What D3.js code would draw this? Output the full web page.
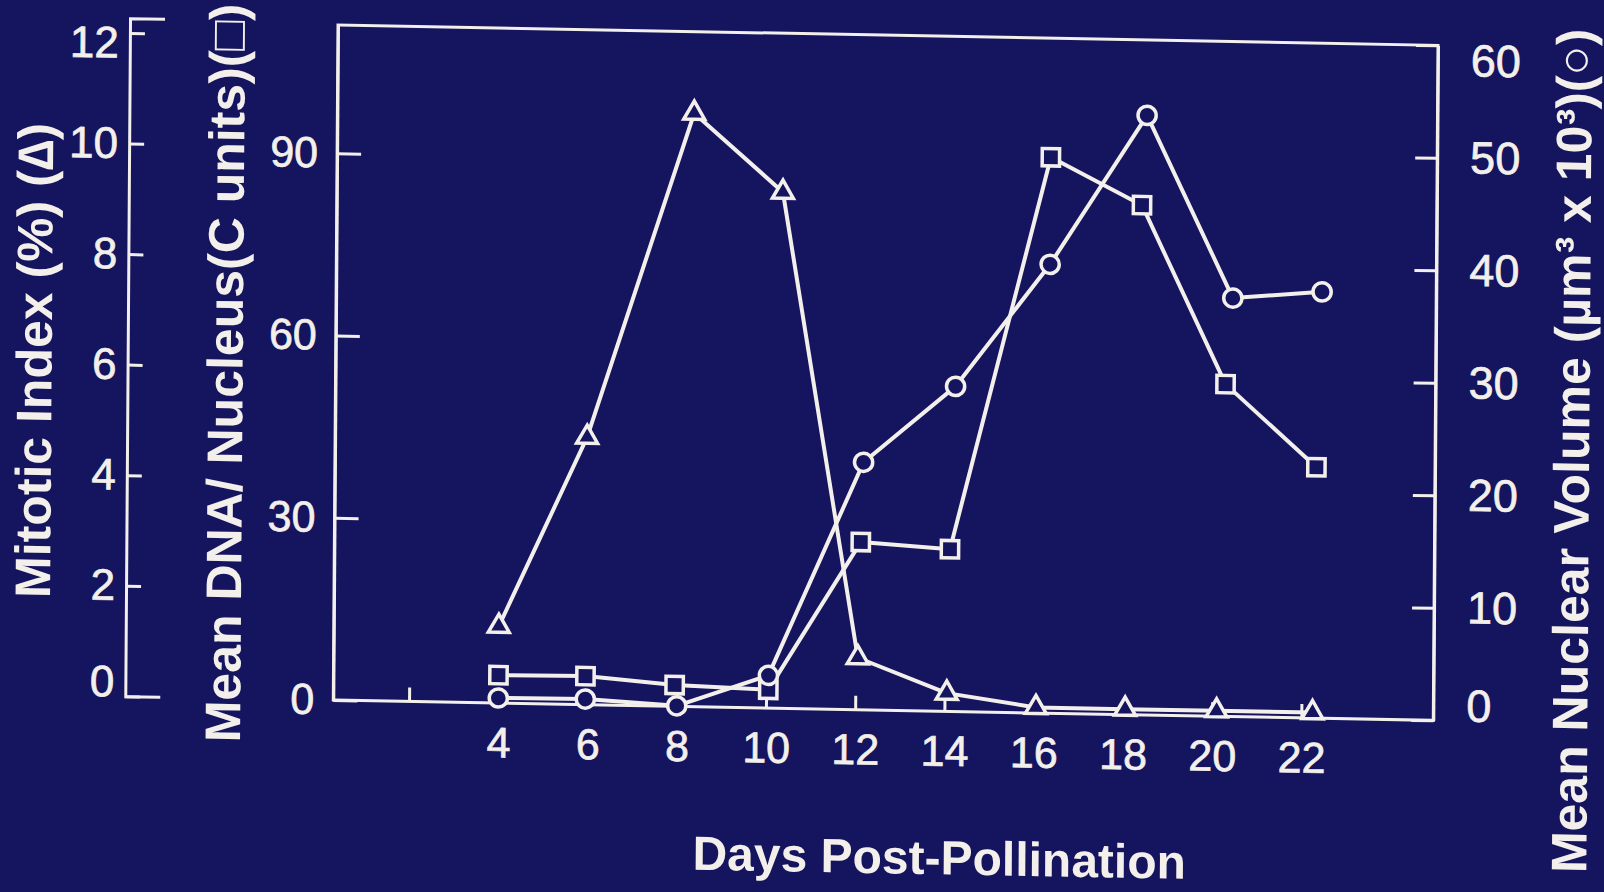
<!DOCTYPE html>
<html>
<head>
<meta charset="utf-8">
<script src="https://cdn.jsdelivr.net/npm/d3@7"></script>
<style>
html, body { margin: 0; padding: 0; background: #15145e; overflow: hidden; }
svg { display: block; }
text { font-family: "Liberation Sans", Arial, Helvetica, sans-serif; fill: #f3f0ec; }
</style>
</head>
<body>
<script>
// days post-pollination for each series
var mitoticDays   = [4, 5.95, 8.3, 10.3, 12.05, 14.05, 16.05, 18.05, 20.1, 22.25];
var mitoticIndex  = [1.39, 4.84, 10.74, 9.34, 0.94, 0.33, 0.1, 0.1, 0.1, 0.1];

var dnaDays       = [4, 5.95, 7.95, 10.05, 12.1, 14.1, 16.3, 18.35, 20.25, 22.3];
var dnaPerNucleus = [4.6, 4.7, 3.5, 3.0, 27.6, 26.7, 91.5, 83.9, 54.7, 41.3];

var volumeDays    = [4, 5.95, 8, 10.05, 12.15, 14.2, 16.3, 18.45, 20.4, 22.4];
var nuclearVolume = [0.45, 0.5, 0.05, 2.9, 22.0, 28.9, 39.9, 53.3, 37.2, 37.9];

var dayTicks     = [2, 4, 6, 8, 10, 12, 14, 16, 18, 20, 22];
var mitoticTicks = [0, 2, 4, 6, 8, 10, 12];
var dnaTicks     = [0, 30, 60, 90];
var volumeTicks  = [0, 10, 20, 30, 40, 50, 60];

var width = 1604, height = 892;
var bg = "#15145e", ink = "#f3f0ec";
var box = {left: 338, right: 1438, top: 25, bottom: 700};

var svg = d3.select("body").append("svg")
    .attr("width", width)
    .attr("height", height);

svg.append("rect")
    .attr("width", width)
    .attr("height", height)
    .attr("fill", bg);

// the photographed slide is slightly sheared: draw straight, then tilt the group
var g = svg.append("g")
    .attr("transform", "matrix(1,0.0185,-0.007,1,0.18,-6.25)");

var x = d3.scaleLinear().domain([4, 22]).range([503, 1306]);
var yMit = d3.scaleLinear().domain([0, 12.27]).range([box.bottom, 22]);
var yDna = d3.scaleLinear().domain([0, 111.1]).range([box.bottom, box.top]);
var yVol = d3.scaleLinear().domain([0, 60]).range([box.bottom, box.top]);

function styleAxis(sel, size) {
  sel.selectAll("path, line")
      .attr("stroke", ink)
      .attr("stroke-width", 3);
  sel.selectAll("text")
      .attr("fill", ink)
      .attr("stroke", ink)
      .attr("stroke-width", 0.7)
      .style("font-size", size + "px");
  sel.attr("font-family", null);
}

// frame
g.append("rect")
    .attr("x", box.left)
    .attr("y", box.top)
    .attr("width", box.right - box.left)
    .attr("height", box.bottom - box.top)
    .attr("fill", "none")
    .attr("stroke", ink)
    .attr("stroke-width", 3);

// mitotic index axis (far left)
var mitAxis = g.append("g")
    .attr("transform", "translate(130,0)")
    .call(d3.axisLeft(yMit)
        .tickValues(mitoticTicks)
        .tickSizeInner(-15)
        .tickSizeOuter(-35)
        .tickPadding(11));
styleAxis(mitAxis, 44);
mitAxis.selectAll(".tick text")
    .attr("dy", function(d) { return d === 0 ? "0em" : d === 12 ? "0.55em" : "0.32em"; });

// DNA axis (left side of frame)
var dnaAxis = g.append("g")
    .attr("transform", "translate(" + box.left + ",0)")
    .call(d3.axisLeft(yDna)
        .tickValues(dnaTicks)
        .tickSizeInner(-24)
        .tickSizeOuter(0)
        .tickPadding(19));
styleAxis(dnaAxis, 43);

// volume axis (right side of frame)
var volAxis = g.append("g")
    .attr("transform", "translate(" + box.right + ",0)")
    .call(d3.axisRight(yVol)
        .tickValues(volumeTicks)
        .tickSizeInner(-22)
        .tickSizeOuter(0)
        .tickPadding(33));
styleAxis(volAxis, 45);
volAxis.selectAll(".tick text")
    .attr("dy", function(d) { return d === 60 ? "0.66em" : d === 0 ? "0em" : "0.32em"; });

// days axis
var dayAxis = g.append("g")
    .attr("transform", "translate(0," + box.bottom + ")")
    .call(d3.axisBottom(x)
        .tickValues(dayTicks)
        .tickSizeInner(-14)
        .tickSizeOuter(0)
        .tickPadding(24)
        .tickFormat(function(d) { return d === 2 ? "" : d; }));
dayAxis.select(".domain").remove();
styleAxis(dayAxis, 43);

// series
var series = [
  {days: mitoticDays, values: mitoticIndex, y: yMit, shape: "triangle"},
  {days: dnaDays, values: dnaPerNucleus, y: yDna, shape: "square"},
  {days: volumeDays, values: nuclearVolume, y: yVol, shape: "circle"}
];

series.forEach(function(s) {
  var pts = d3.zip(s.days, s.values);
  var line = d3.line()
      .x(function(d) { return x(d[0]); })
      .y(function(d) { return s.y(d[1]); });
  g.append("path")
      .datum(pts)
      .attr("d", line)
      .attr("fill", "none")
      .attr("stroke", ink)
      .attr("stroke-width", 4)
      .attr("stroke-linejoin", "round");
});

series.forEach(function(s) {
  var pts = d3.zip(s.days, s.values);
  var sym = d3.symbol()
      .type(s.shape === "triangle" ? d3.symbolTriangle :
            s.shape === "square" ? d3.symbolSquare : d3.symbolCircle)
      .size(s.shape === "triangle" ? 190 : s.shape === "square" ? 300 : 260);
  g.append("g").selectAll("path")
      .data(pts)
    .enter().append("path")
      .attr("transform", function(d) {
        return "translate(" + x(d[0]) + "," + s.y(d[1]) + ")";
      })
      .attr("d", sym)
      .attr("fill", bg)
      .attr("stroke", ink)
      .attr("stroke-width", 3.5);
});

// axis titles
function title(tx, ty, rot, txt, size) {
  g.append("text")
      .attr("transform", "translate(" + tx + "," + ty + ")" + (rot ? " rotate(-90)" : ""))
      .attr("text-anchor", "middle")
      .style("font-size", size + "px")
      .style("font-weight", "bold")
      .text(txt);
}
title(54, 366, true, "Mitotic Index (%) (\u2206)", 50);
title(245, 375, true, "Mean DNA/ Nucleus(C units)(\u25A1)", 50);
title(1592, 428, true, "Mean Nuclear Volume (\u00B5m\u00B3 x 10\u00B3)(\u25CB)", 50);
title(945, 863, false, "Days Post-Pollination", 48);
</script>
</body>
</html>
